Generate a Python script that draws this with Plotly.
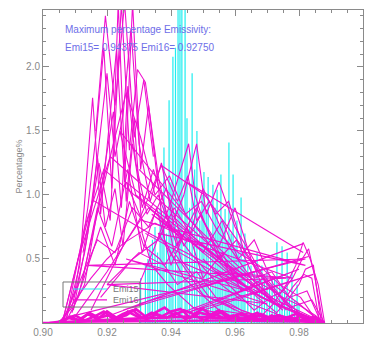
import plotly.graph_objects as go

# ---------------- data ----------------
# Emi15 histogram spikes (emissivity, percentage)
emi15_x = [0.9305, 0.9320, 0.9328, 0.9334, 0.9342, 0.9350, 0.9358, 0.9366, 0.9372, 0.9378,
           0.9386, 0.9394, 0.9400, 0.9406, 0.9414, 0.9422, 0.9428, 0.9434, 0.9444, 0.9450,
           0.9458, 0.9466, 0.9474, 0.9481, 0.9490, 0.9497, 0.9503, 0.9510, 0.9516, 0.9524,
           0.9531, 0.9538, 0.9544, 0.9550, 0.9556, 0.9562, 0.9569, 0.9575, 0.9581, 0.9588,
           0.9594, 0.9600, 0.9606, 0.9612, 0.9619, 0.9625, 0.9631, 0.9640, 0.9650, 0.9660,
           0.9669, 0.9676, 0.9684, 0.9692, 0.9700, 0.9708, 0.9716, 0.9724, 0.9731, 0.9740,
           0.9747, 0.9755, 0.9763, 0.9770, 0.9778, 0.9786, 0.9794, 0.9800]
emi15_y = [0.35, 0.45, 0.50, 0.60, 0.65, 0.75, 0.55, 0.90, 0.80, 1.37,
           0.70, 1.74, 1.10, 2.08, 2.15, 2.50, 2.50, 2.50, 2.50, 1.60,
           0.90, 1.95, 1.20, 1.50, 0.80, 1.00, 1.18, 0.85, 1.14, 0.70,
           1.08, 0.90, 1.04, 0.75, 1.16, 0.80, 0.89, 0.65, 1.41, 0.70,
           1.16, 0.60, 0.80, 0.55, 0.98, 0.50, 0.70, 0.45, 0.45, 0.40,
           0.55, 0.35, 0.45, 0.38, 0.42, 0.30, 0.35, 0.35, 0.63, 0.30,
           0.60, 0.25, 0.55, 0.20, 0.40, 0.18, 0.30, 0.15]

# Emi16 curves (one list per curve)
emi16_x = [
    [0.900, 0.903, 0.905, 0.909, 0.913, 0.9175, 0.921, 0.9245, 0.927, 0.9295, 0.932, 0.936, 0.941, 0.950, 0.962, 0.975, 0.987],
    [0.906, 0.910, 0.914, 0.9165, 0.919, 0.9215, 0.9235, 0.926, 0.9285, 0.931, 0.934, 0.939, 0.947, 0.960, 0.986],
    [0.907, 0.9115, 0.9155, 0.918, 0.9205, 0.923, 0.9255, 0.928, 0.9305, 0.933, 0.938, 0.944, 0.955, 0.970, 0.988],
    [0.906, 0.912, 0.9155, 0.920, 0.9225, 0.925, 0.9275, 0.930, 0.9335, 0.937, 0.943, 0.952, 0.966, 0.985],
    [0.9125, 0.9155, 0.934, 0.950, 0.972, 0.985],
    [0.908, 0.913, 0.9185, 0.922, 0.9245, 0.9265, 0.929, 0.9325, 0.936, 0.942, 0.948, 0.958, 0.968, 0.980, 0.987],
    [0.9095, 0.914, 0.917, 0.9195, 0.9225, 0.925, 0.928, 0.931, 0.9345, 0.940, 0.946, 0.953, 0.962, 0.974, 0.986],
    [0.910, 0.920, 0.930, 0.937, 0.942, 0.9453, 0.948, 0.952, 0.958, 0.965, 0.975, 0.986],
    [0.915, 0.925, 0.933, 0.940, 0.944, 0.948, 0.951, 0.955, 0.960, 0.968, 0.978, 0.987],
    [0.918, 0.928, 0.936, 0.941, 0.946, 0.950, 0.954, 0.958, 0.963, 0.970, 0.980, 0.988],
    [0.937, 0.9505, 0.962, 0.976],
    [0.920, 0.930, 0.938, 0.944, 0.950, 0.956, 0.961, 0.966, 0.972, 0.980, 0.987],
    [0.955, 0.962, 0.968, 0.972, 0.976, 0.979, 0.9813, 0.9835, 0.986, 0.988],
    [0.950, 0.960, 0.966, 0.971, 0.975, 0.978, 0.981, 0.983, 0.985, 0.9875],
    [0.940, 0.958, 0.967, 0.973, 0.977, 0.980, 0.982, 0.9845, 0.987],
    [0.930, 0.950, 0.965, 0.974, 0.978, 0.9815, 0.984, 0.9865],
    [0.9813, 0.968, 0.955, 0.945],
    [0.906, 0.911, 0.916, 0.921, 0.975, 0.926, 0.931, 0.982, 0.936, 0.941, 0.987],
    [0.907, 0.913, 0.919, 0.962, 0.924, 0.929, 0.968, 0.934, 0.944, 0.978, 0.954, 0.988],
    [0.905, 0.910, 0.915, 0.920, 0.925, 0.930, 0.935, 0.940, 0.945, 0.950, 0.955, 0.960, 0.965, 0.970, 0.975, 0.980, 0.985, 0.988],
    [0.906, 0.912, 0.917, 0.9225, 0.928, 0.933, 0.9385, 0.944, 0.9495, 0.955, 0.9605, 0.966, 0.9715, 0.977, 0.9825, 0.987],
    [0.9085, 0.982, 0.914, 0.976, 0.920, 0.970, 0.926, 0.964, 0.932],
    [0.911, 0.9165, 0.9215, 0.926, 0.9305, 0.935, 0.9395, 0.9445, 0.9495, 0.955, 0.961, 0.9675, 0.974, 0.9805, 0.986],
    [0.9125, 0.917, 0.9215, 0.9265, 0.931, 0.9355, 0.940, 0.945, 0.950, 0.956, 0.962, 0.969, 0.977, 0.984, 0.988],
    [0.930, 0.935, 0.940, 0.9455, 0.9475, 0.950, 0.955, 0.960, 0.965, 0.970],
    [0.920, 0.9813, 0.925, 0.983, 0.930],
    [0.940, 0.980, 0.945, 0.9845, 0.950],
    [0.909, 0.9135, 0.918, 0.9225, 0.927, 0.9315, 0.9365, 0.942, 0.948, 0.954, 0.960],
    [0.9165, 0.9195, 0.9225, 0.9255, 0.9285, 0.9315, 0.9345],
    [0.902, 0.905, 0.908, 0.911, 0.914, 0.917, 0.920, 0.923, 0.926, 0.929, 0.932, 0.935, 0.938, 0.941, 0.944,
     0.947, 0.950, 0.953, 0.956, 0.959, 0.962, 0.965, 0.968, 0.971, 0.974, 0.977, 0.980, 0.983, 0.986, 0.988],
    [0.904, 0.907, 0.910, 0.913, 0.916, 0.919, 0.922, 0.925, 0.928, 0.931, 0.934, 0.937, 0.940, 0.943, 0.946,
     0.949, 0.952, 0.955, 0.958, 0.961, 0.964, 0.967, 0.970, 0.973, 0.976, 0.979, 0.982, 0.985, 0.988],
    [0.9055, 0.9085, 0.9115, 0.9145, 0.9175, 0.9205, 0.9235, 0.9265, 0.9295, 0.9325, 0.9355, 0.9385, 0.9415,
     0.9445, 0.9475, 0.9505, 0.9535, 0.9565, 0.9595, 0.9625, 0.9655, 0.9685, 0.9715, 0.9745, 0.9775, 0.9805, 0.9835, 0.9865],
    [0.905, 0.915, 0.925, 0.935, 0.945, 0.955, 0.965, 0.975, 0.985, 0.988],
    [0.900, 0.9045, 0.907, 0.930, 0.955, 0.975, 0.9865, 0.988],
]
emi16_y = [
    [0.0, 0.0, 0.0, 0.12, 0.55, 1.25, 0.80, 2.50, 1.35, 1.98, 1.88, 1.15, 0.55, 0.22, 0.08, 0.03, 0.0],
    [0.0, 0.25, 0.90, 1.45, 2.15, 1.05, 2.50, 0.95, 1.60, 0.70, 0.45, 0.30, 0.12, 0.05, 0.0],
    [0.0, 0.45, 1.76, 0.85, 1.50, 2.14, 1.10, 2.50, 1.20, 1.70, 0.65, 0.35, 0.10, 0.04, 0.0],
    [0.0, 0.60, 0.96, 1.95, 1.30, 1.62, 2.30, 1.40, 0.95, 1.25, 0.50, 0.20, 0.06, 0.0],
    [0.55, 0.96, 0.69, 0.48, 0.15, 0.02],
    [0.05, 0.30, 1.10, 1.65, 0.90, 1.85, 1.25, 0.85, 1.00, 0.60, 0.90, 0.40, 0.20, 0.08, 0.0],
    [0.10, 0.70, 1.30, 0.75, 1.05, 0.60, 1.40, 0.90, 1.20, 0.75, 0.55, 0.35, 0.18, 0.06, 0.0],
    [0.05, 0.40, 0.80, 1.23, 0.95, 1.15, 0.80, 0.95, 0.60, 0.35, 0.12, 0.0],
    [0.10, 0.60, 0.90, 0.75, 1.00, 1.40, 0.85, 1.10, 0.75, 0.40, 0.10, 0.0],
    [0.20, 0.50, 0.65, 0.90, 0.70, 1.05, 0.85, 0.95, 0.55, 0.30, 0.08, 0.0],
    [1.23, 1.00, 0.60, 0.10],
    [0.30, 0.55, 0.45, 0.70, 0.55, 0.80, 0.50, 0.65, 0.30, 0.15, 0.0],
    [0.20, 0.10, 0.05, 0.15, 0.30, 0.45, 0.63, 0.50, 0.30, 0.0],
    [0.50, 0.25, 0.10, 0.20, 0.25, 0.35, 0.50, 0.58, 0.35, 0.0],
    [0.85, 0.40, 0.20, 0.08, 0.20, 0.30, 0.42, 0.45, 0.0],
    [1.20, 0.70, 0.35, 0.12, 0.28, 0.38, 0.35, 0.0],
    [0.55, 0.75, 0.95, 1.10],
    [0.0, 0.50, 0.90, 1.30, 0.10, 1.10, 0.80, 0.45, 0.70, 0.50, 0.0],
    [0.0, 0.75, 1.20, 0.30, 1.50, 1.00, 0.25, 0.85, 0.65, 0.35, 0.40, 0.0],
    [0.0, 0.18, 0.35, 0.50, 0.62, 0.70, 0.78, 0.72, 0.66, 0.60, 0.50, 0.42, 0.35, 0.28, 0.20, 0.14, 0.06, 0.0],
    [0.0, 0.35, 0.65, 0.55, 0.90, 0.75, 1.05, 0.60, 0.85, 0.50, 0.65, 0.35, 0.40, 0.20, 0.25, 0.0],
    [0.05, 0.50, 0.45, 0.35, 0.30, 0.15, 0.50, 0.25, 0.70],
    [0.20, 0.80, 1.35, 1.80, 1.45, 1.00, 1.15, 0.85, 0.95, 0.70, 0.55, 0.45, 0.30, 0.20, 0.0],
    [0.35, 0.90, 0.60, 1.20, 0.55, 0.90, 0.45, 0.75, 0.35, 0.55, 0.25, 0.35, 0.12, 0.18, 0.0],
    [0.30, 0.60, 0.95, 1.40, 1.00, 0.80, 0.60, 0.90, 0.50, 0.20],
    [0.05, 0.62, 0.10, 0.52, 0.15],
    [0.05, 0.42, 0.08, 0.38, 0.10],
    [0.08, 0.40, 0.75, 0.45, 0.95, 0.60, 0.50, 0.30, 0.40, 0.20, 0.10],
    [1.50, 2.40, 1.70, 2.50, 1.45, 1.90, 1.30],
    [0.0, 0.01, 0.04, 0.02, 0.07, 0.03, 0.09, 0.04, 0.06, 0.11, 0.05, 0.08, 0.12, 0.06, 0.10,
     0.07, 0.11, 0.05, 0.09, 0.04, 0.08, 0.03, 0.07, 0.04, 0.06, 0.02, 0.05, 0.03, 0.02, 0.0],
    [0.0, 0.03, 0.06, 0.02, 0.05, 0.09, 0.03, 0.07, 0.10, 0.04, 0.08, 0.05, 0.09, 0.11, 0.04,
     0.08, 0.06, 0.10, 0.03, 0.07, 0.05, 0.08, 0.02, 0.06, 0.04, 0.07, 0.03, 0.05, 0.0],
    [0.01, 0.05, 0.02, 0.08, 0.04, 0.06, 0.02, 0.09, 0.05, 0.03, 0.07, 0.04, 0.08, 0.03, 0.06,
     0.02, 0.07, 0.04, 0.06, 0.03, 0.05, 0.02, 0.06, 0.03, 0.04, 0.02, 0.03, 0.01],
    [0.0, 0.02, 0.03, 0.04, 0.05, 0.04, 0.03, 0.03, 0.02, 0.0],
    [0.0, 0.0, 0.01, 0.015, 0.02, 0.015, 0.01, 0.0],
]
# curves drawn heavier (the dense band along the bottom)
heavy_curves = {29, 30, 31, 32, 33}

max_text = ["Maximum percentage Emissivity:", "Emi15= 0.94375 Emi16= 0.92750"]
legend_names = ["Emi15", "Emi16"]

CYAN = "#1eeef0"
MAGENTA = "#f010d0"
GRAY = "#888888"

fig = go.Figure()

# Emi15 spikes: each spike goes from 0 up to its value and back down
sx, sy = [], []
for x, y in zip(emi15_x, emi15_y):
    sx += [x, x, x]
    sy += [0, y, 0]
fig.add_trace(go.Scatter(x=sx, y=sy, mode="lines", name=legend_names[0],
                         line=dict(color=CYAN, width=1.2), showlegend=False))

for i, (xs, ys) in enumerate(zip(emi16_x, emi16_y)):
    fig.add_trace(go.Scatter(x=xs, y=ys, mode="lines", name=legend_names[1],
                             line=dict(color=MAGENTA, width=2.6 if i in heavy_curves else 1.1),
                             showlegend=False))

axis_common = dict(showline=True, linecolor="#8a8a8a", linewidth=1, mirror="allticks",
                   ticks="inside", tickcolor="#8a8a8a", ticklen=6, showgrid=False,
                   zeroline=False, automargin=False,
                   tickfont=dict(family="Liberation Sans", size=10, color=GRAY))

fig.update_xaxes(range=[0.90, 1.00], tickvals=[0.90, 0.92, 0.94, 0.96, 0.98, 1.00],
                 ticktext=["0.90", "0.92", "0.94", "0.96", "0.98", "1.00"],
                 minor=dict(dtick=0.005, ticks="inside", ticklen=3, tickcolor="#8a8a8a"),
                 **axis_common)
fig.update_yaxes(range=[0, 2.445], tickvals=[0.5, 1.0, 1.5, 2.0],
                 ticktext=["0.5", "1.0", "1.5", "2.0"],
                 minor=dict(dtick=0.1, ticks="inside", ticklen=3, tickcolor="#8a8a8a"),
                 **axis_common)

# y axis title
fig.add_annotation(text="Percentage%", xref="paper", yref="paper", x=-0.078, y=0.5,
                   textangle=-90, showarrow=False, xanchor="center", yanchor="middle",
                   font=dict(family="Liberation Sans", size=9, color=GRAY))

for i, t in enumerate(max_text):
    fig.add_annotation(text=t, xref="paper", yref="paper", x=0.0625, y=0.937 - i * 0.058,
                       xanchor="left", yanchor="middle", showarrow=False,
                       font=dict(family="Liberation Sans", size=10, color="#6e6ee8"))

# legend box drawn by hand (transparent, like the original)
shapes = [dict(type="rect", xref="paper", yref="paper", x0=0.0625, x1=0.303, y0=0.051, y1=0.131,
               line=dict(color="#777777", width=1), fillcolor="rgba(0,0,0,0)")]
for i, (nm, col) in enumerate(zip(legend_names, [CYAN, MAGENTA])):
    yy = 0.1086 - i * 0.035
    shapes.append(dict(type="line", xref="paper", yref="paper", x0=0.094, x1=0.2, y0=yy, y1=yy,
                       line=dict(color=col, width=1.2)))
    fig.add_annotation(text=nm, xref="paper", yref="paper", x=0.214, y=yy, xanchor="left",
                       yanchor="middle", showarrow=False,
                       font=dict(family="Liberation Sans", size=9, color="#777777"))

fig.update_layout(
    width=369, height=339,
    margin=dict(l=43, r=6, t=10, b=16, autoexpand=False),
    plot_bgcolor="white", paper_bgcolor="white",
    showlegend=False,
    shapes=shapes,
)

fig.write_html("out.html")
